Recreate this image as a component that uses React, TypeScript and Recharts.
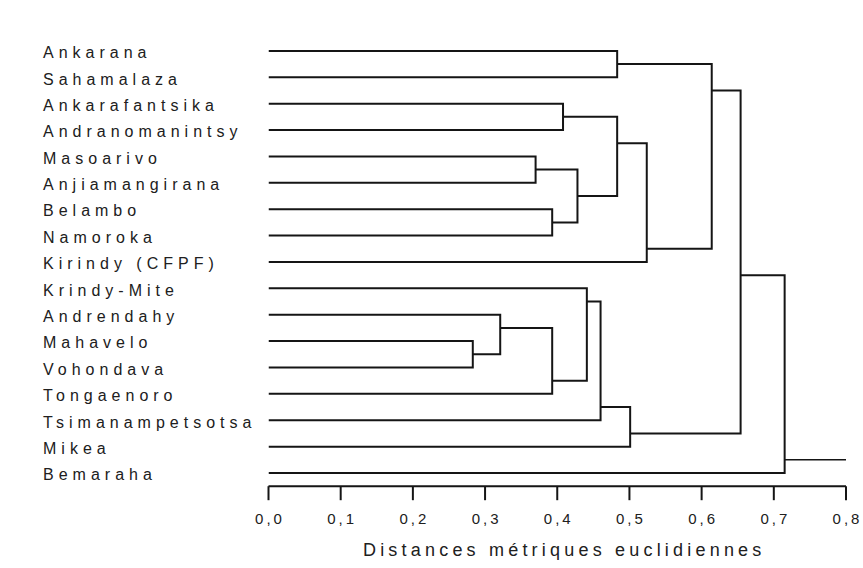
import React from 'react';
import { ComposedChart, Line, XAxis, YAxis } from 'recharts';

// Leaf labels (top to bottom)
const leafNames = [
  'Ankarana',
  'Sahamalaza',
  'Ankarafantsika',
  'Andranomanintsy',
  'Masoarivo',
  'Anjiamangirana',
  'Belambo',
  'Namoroka',
  'Kirindy (CFPF)',
  'Krindy-Mite',
  'Andrendahy',
  'Mahavelo',
  'Vohondava',
  'Tongaenoro',
  'Tsimanampetsotsa',
  'Mikea',
  'Bemaraha',
];

// Merge steps: linkage distance, the two joined nodes, and the row position of the outgoing link
const mergeHeights = [0.283, 0.321, 0.37, 0.393, 0.393, 0.408, 0.428, 0.441, 0.46, 0.483, 0.483, 0.501, 0.524, 0.614, 0.654, 0.715];
const mergeFirstChild = ['L11', 'L10', 'L4', 'L6', 'M1', 'L2', 'M2', 'L9', 'M7', 'L0', 'M5', 'M8', 'M10', 'M9', 'M13', 'M14'];
const mergeSecondChild = ['L12', 'M0', 'L5', 'L7', 'L13', 'L3', 'M3', 'M4', 'L14', 'L1', 'M6', 'L15', 'L8', 'M12', 'M11', 'L16'];
const mergeLinkRow = [11.5, 10.5, 4.5, 6.5, 12.5, 2.5, 5.5, 9.5, 13.5, 0.5, 3.5, 14.5, 7.5, 1.5, 8.5, 15.5];
const rootTailEnd = 0.8;

const xTicks = [0, 0.1, 0.2, 0.3, 0.4, 0.5, 0.6, 0.7, 0.8];
const leafRows = leafNames.map((_, i) => i);
const axisTitle = 'Distances métriques euclidiennes';

type Node = { h: number; y: number };
const nodes: Record<string, Node> = {};
leafNames.forEach((_, i) => {
  nodes['L' + i] = { h: 0, y: i };
});
mergeHeights.forEach((h, k) => {
  nodes['M' + k] = { h, y: mergeLinkRow[k] };
});

const links = mergeHeights.map((h, k) => {
  const a = nodes[mergeFirstChild[k]];
  const b = nodes[mergeSecondChild[k]];
  return [
    { x: a.h, y: a.y },
    { x: h, y: a.y },
    { x: h, y: b.y },
    { x: b.h, y: b.y },
  ];
});
const lastIdx = mergeHeights.length - 1;
const rootTail = [
  { x: mergeHeights[lastIdx], y: mergeLinkRow[lastIdx] },
  { x: rootTailEnd, y: mergeLinkRow[lastIdx] },
];

const FONT = '"Liberation Sans", Arial, Helvetica, sans-serif';
const INK = '#151515';

const LeafTick = (props: any) => {
  const { y, payload } = props;
  return (
    <text
      x={43}
      y={y + 1.5}
      dy="0.36em"
      textAnchor="start"
      fontFamily={FONT}
      fontSize={16}
      fill="#202020"
      style={{ letterSpacing: '5px' }}
    >
      {leafNames[payload.value]}
    </text>
  );
};

const DistTick = (props: any) => {
  const { x, y, payload } = props;
  return (
    <text
      x={x + 1.5}
      y={y}
      dy={15}
      textAnchor="middle"
      fontFamily={FONT}
      fontSize={15}
      fill="#202020"
      style={{ letterSpacing: '3px' }}
    >
      {Number(payload.value).toFixed(1).replace('.', ',')}
    </text>
  );
};

const renderTitle = (props: any) => {
  const vb = props && props.viewBox ? props.viewBox : { x: 268.5, y: 486, width: 577.5, height: 82 };
  const cx = vb.x + vb.width / 2 + 7;
  return (
    <text
      x={cx}
      y={vb.y + 70}
      textAnchor="middle"
      fontFamily={FONT}
      fontSize={18}
      fill="#202020"
      style={{ letterSpacing: '4.2px' }}
    >
      {axisTitle}
    </text>
  );
};

export default function App() {
  return (
    <div style={{ position: 'absolute', left: 0, top: 0, width: 863, height: 568, background: '#fff' }}>
      <ComposedChart width={863} height={568} margin={{ top: 37.7, right: 17, bottom: 0, left: 0 }}>
        <XAxis
          type="number"
          dataKey="x"
          domain={[0, 0.8]}
          ticks={xTicks}
          allowDataOverflow
          height={81.8}
          tickSize={14}
          tickMargin={9}
          axisLine={{ stroke: INK, strokeWidth: 2 }}
          tickLine={{ stroke: INK, strokeWidth: 2 }}
          tick={<DistTick />}
          label={renderTitle}
        />
        <YAxis
          type="number"
          dataKey="y"
          domain={[-0.5, 16.5]}
          reversed
          ticks={leafRows}
          interval={0}
          width={268.5}
          axisLine={false}
          tickLine={false}
          tick={<LeafTick />}
        />
        {links.map((d, i) => (
          <Line
            key={'link' + i}
            data={d}
            dataKey="y"
            type="linear"
            stroke={INK}
            strokeWidth={2}
            dot={false}
            activeDot={false}
            isAnimationActive={false}
          />
        ))}
        <Line
          data={rootTail}
          dataKey="y"
          type="linear"
          stroke={INK}
          strokeWidth={1.5}
          dot={false}
          activeDot={false}
          isAnimationActive={false}
        />
      </ComposedChart>
    </div>
  );
}
